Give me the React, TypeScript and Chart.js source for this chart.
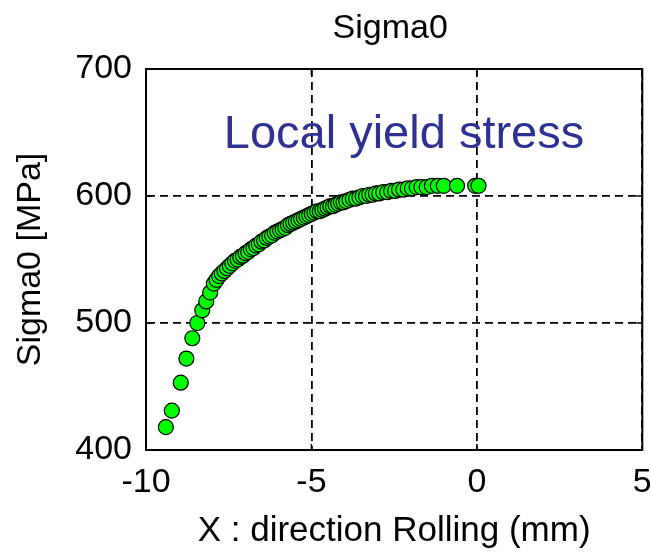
import React, { useEffect, useRef } from "react";
import { Chart, registerables } from "chart.js";

Chart.register(...registerables);

const chartTitle = "Sigma0";
const xAxisTitle = "X : direction Rolling (mm)";
const yAxisTitle = "Sigma0 [MPa]";
const annotationText = "Local yield stress";

const xTicks = [-10, -5, 0, 5];
const yTicks = [400, 500, 600, 700];

const xValues = [
  -9.4, -9.22, -8.95, -8.78, -8.6, -8.45, -8.3, -8.18, -8.06,
  -7.95, -7.87, -7.79, -7.71, -7.63, -7.55, -7.47, -7.39, -7.31, -7.23,
  -7.15, -7.07, -6.99, -6.91, -6.83, -6.75, -6.67, -6.59, -6.51, -6.43,
  -6.35, -6.27, -6.19, -6.11, -6.03, -5.95, -5.87, -5.79, -5.71, -5.63,
  -5.55, -5.47, -5.39, -5.31, -5.23, -5.15, -5.07, -4.99, -4.91, -4.83,
  -4.75, -4.67, -4.59, -4.51, -4.43, -4.35, -4.27, -4.19, -4.11, -4.03,
  -3.95, -3.85, -3.75, -3.65, -3.55, -3.45, -3.35, -3.25, -3.15, -3.05,
  -2.95, -2.83, -2.71, -2.59, -2.47, -2.35, -2.22, -2.09, -1.96, -1.82,
  -1.68, -1.52, -1.36, -1.18, -1.0, -0.6, -0.05, 0.05,
];
const yValues = [
  418, 431, 453, 472, 488, 500, 510, 517, 524,
  531, 534, 537, 539, 541, 543, 545, 547, 549, 550,
  552, 553, 555, 556, 558, 559, 561, 562, 564, 565,
  567, 568, 569, 571, 572, 573, 574, 575, 577, 578,
  579, 580, 581, 582, 583, 584, 585, 586, 587, 588,
  588, 589, 590, 591, 592, 592, 593, 594, 595, 595,
  596, 597, 598, 598, 599, 600, 600, 601, 601, 602,
  602, 603, 603, 604, 604, 605, 605, 606, 606, 607,
  607, 607, 608, 608, 608, 608, 608, 608,
];

const FONT = "'Liberation Sans', Arial, sans-serif";

export default function App() {
  const canvasRef = useRef<HTMLCanvasElement | null>(null);

  useEffect(() => {
    const canvas = canvasRef.current;
    if (!canvas) return;

    const framePlugin = {
      id: "framePlugin",
      afterDatasetsDraw(chart: any) {
        const { ctx, chartArea, scales } = chart;
        const { left, right, top, bottom } = chartArea;
        ctx.save();
        // chart title centred over the plot area
        ctx.fillStyle = "#000";
        ctx.font = `34px ${FONT}`;
        ctx.textAlign = "center";
        ctx.textBaseline = "alphabetic";
        ctx.fillText(chartTitle, (left + right) / 2 - 4, 38);
        // annotation text
        ctx.fillStyle = "#2E3192";
        ctx.font = `47px ${FONT}`;
        ctx.fillText(annotationText, 404, 148);
        // inner ticks
        ctx.strokeStyle = "#000";
        ctx.lineWidth = 1.5;
        ctx.setLineDash([]);
        const tl = 6;
        xTicks.slice(1, -1).forEach((v) => {
          const px = scales.x.getPixelForValue(v);
          ctx.beginPath();
          ctx.moveTo(px, bottom);
          ctx.lineTo(px, bottom - tl);
          ctx.moveTo(px, top);
          ctx.lineTo(px, top + tl);
          ctx.stroke();
        });
        yTicks.slice(1, -1).forEach((v) => {
          const py = scales.y.getPixelForValue(v);
          ctx.beginPath();
          ctx.moveTo(left, py);
          ctx.lineTo(left + tl, py);
          ctx.moveTo(right, py);
          ctx.lineTo(right - tl, py);
          ctx.stroke();
        });
        // frame
        ctx.lineWidth = 2;
        ctx.strokeRect(left, top, right - left, bottom - top);
        ctx.restore();
      },
    };

    const chart = new Chart(canvas, {
      type: "scatter",
      data: {
        datasets: [
          {
            label: chartTitle,
            data: xValues.map((x, i) => ({ x, y: yValues[i] })),
            backgroundColor: "#00ff00",
            borderColor: "#000000",
            borderWidth: 1.2,
            pointRadius: 7.5,
            pointHoverRadius: 7.5,
          },
        ],
      },
      options: {
        responsive: false,
        animation: false,
        events: [],
        layout: { padding: { left: 0, right: 6, top: 69, bottom: 0 } },
        plugins: {
          legend: { display: false },
          tooltip: { enabled: false },
          title: { display: false },
        },
        scales: {
          x: {
            type: "linear",
            min: -10,
            max: 5,
            afterBuildTicks: (scale: any) => {
              scale.ticks = xTicks.map((v) => ({ value: v }));
            },
            afterFit: (scale: any) => {
              scale.height = 106;
              scale.paddingLeft = 0;
              scale.paddingRight = 0;
            },
            ticks: {
              color: "#000",
              font: { family: FONT, size: 34 },
              padding: 12,
              maxRotation: 0,
              autoSkip: false,
            },
            grid: { color: "#000", lineWidth: 1.8, drawTicks: false },
            border: { display: true, color: "#000", width: 2, dash: [8, 5] },
            title: {
              display: true,
              text: xAxisTitle,
              color: "#000",
              font: { family: FONT, size: 35 },
              padding: { top: 0, bottom: 4 },
            },
          },
          y: {
            type: "linear",
            min: 400,
            max: 700,
            afterBuildTicks: (scale: any) => {
              scale.ticks = yTicks.map((v) => ({ value: v }));
            },
            afterFit: (scale: any) => {
              scale.width = 146;
              scale.paddingTop = 0;
              scale.paddingBottom = 0;
            },
            ticks: {
              color: "#000",
              font: { family: FONT, size: 34 },
              padding: 14,
              autoSkip: false,
            },
            grid: { color: "#000", lineWidth: 1.8, drawTicks: false },
            border: { display: true, color: "#000", width: 2, dash: [8, 5] },
            title: {
              display: true,
              text: yAxisTitle,
              color: "#000",
              font: { family: FONT, size: 34 },
              padding: { top: 10, bottom: 0 },
            },
          },
        },
      },
      plugins: [framePlugin],
    });

    return () => {
      chart.destroy();
    };
  }, []);

  return (
    <div style={{ position: "absolute", left: 0, top: 0, width: 651, height: 556, background: "#fff" }}>
      <canvas ref={canvasRef} width={651} height={556} style={{ display: "block", width: 651, height: 556 }} />
    </div>
  );
}
